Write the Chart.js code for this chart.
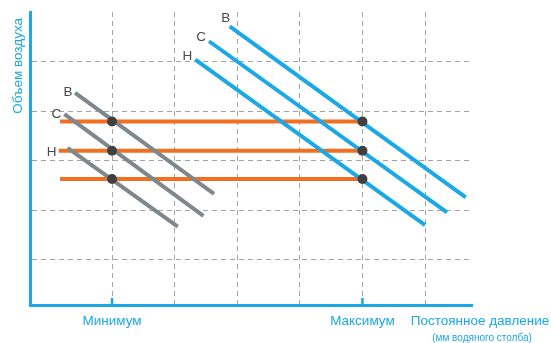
<!DOCTYPE html>
<html>
<head>
<meta charset="utf-8">
<script src="https://cdn.jsdelivr.net/npm/chart.js@4/dist/chart.umd.min.js"></script>
<style>
    html, body { margin: 0; padding: 0; background: #fff; }
    #wrap { width: 551px; height: 343px; }
</style>
</head>
<body>
<div id="wrap"><canvas id="chart"></canvas></div>
<script>
// подписи кривых вентилятора
const curveNames = ['В', 'С', 'Н'];

// x = давление (0 = минимум, 4 = максимум), y = объем воздуха
const minCurveX = [[-0.59, 1.63], [-0.76, 1.46], [-0.71, 1.05]];
const minCurveY = [[4.37, 2.33], [3.94, 1.89], [3.26, 1.67]];
const maxCurveX = [[1.88, 5.65], [1.55, 5.35], [1.33, 5.0]];
const maxCurveY = [[5.71, 2.26], [5.41, 1.96], [5.04, 1.70]];

// постоянный объем (оранжевые линии)
const workLevels = [3.79, 3.20, 2.63];
const workStartX = [-0.83, -0.85, -0.83];
const minPressure = 0;
const maxPressure = 4;

const pressureTicks = [0, 1, 2, 3, 4, 5];
const pressureLabels = ['Минимум', '', '', '', 'Максимум', ''];
const volumeTicks = [1, 2, 3, 4, 5];

const blue = '#1aa8e6';
const orange = '#f26f22';
const gray = '#7d878c';
const dotColor = '#404040';
const gridColor = '#a3a3a3';
const fontFamily = '"Liberation Sans", Arial, sans-serif';

function toPoints(xs, ys) {
    return xs.map((x, i) => ({ x: x, y: ys[i] }));
}

const datasets = [];

// точки пересечения
const dots = [];
workLevels.forEach(level => {
    dots.push({ x: minPressure, y: level });
    dots.push({ x: maxPressure, y: level });
});
datasets.push({
    data: dots,
    showLine: false,
    pointRadius: 5,
    pointBackgroundColor: dotColor,
    pointBorderWidth: 0,
    order: 0
});

curveNames.forEach((name, i) => {
    datasets.push({
        label: name,
        data: toPoints(minCurveX[i], minCurveY[i]),
        showLine: true,
        borderColor: gray,
        borderWidth: 4,
        pointRadius: 0,
        order: 1
    });
    datasets.push({
        label: name,
        data: toPoints(maxCurveX[i], maxCurveY[i]),
        showLine: true,
        borderColor: blue,
        borderWidth: 4,
        pointRadius: 0,
        order: 1
    });
});

workLevels.forEach((level, i) => {
    datasets.push({
        data: [{ x: workStartX[i], y: level }, { x: maxPressure, y: level }],
        showLine: true,
        borderColor: orange,
        borderWidth: 4,
        pointRadius: 0,
        order: 2
    });
});

// смещения букв от начала кривой, px
const minLetterShift = [[-7, -1], [-8, 0], [-16, 4]];
const maxLetterShift = [[-4, -8], [-8, -4], [-8, -3]];

const extras = {
    id: 'extras',
    beforeDatasetsDraw(chart) {
        const { ctx, scales: { x, y } } = chart;
        ctx.save();
        ctx.strokeStyle = blue;
        ctx.lineWidth = 2.5;
        [minPressure, maxPressure].forEach(v => {
            const px = x.getPixelForValue(v);
            ctx.beginPath();
            ctx.moveTo(px, y.bottom);
            ctx.lineTo(px, y.bottom - 7);
            ctx.stroke();
        });
        ctx.restore();
    },
    afterDraw(chart) {
        const { ctx, scales: { x, y } } = chart;
        ctx.save();
        ctx.textAlign = 'center';
        ctx.textBaseline = 'middle';
        ctx.fillStyle = '#4a4a4a';
        ctx.font = '13.5px ' + fontFamily;
        curveNames.forEach((name, i) => {
            let px = x.getPixelForValue(minCurveX[i][0]) + minLetterShift[i][0];
            let py = y.getPixelForValue(minCurveY[i][0]) + minLetterShift[i][1];
            ctx.fillText(name, px, py);
            px = x.getPixelForValue(maxCurveX[i][0]) + maxLetterShift[i][0];
            py = y.getPixelForValue(maxCurveY[i][0]) + maxLetterShift[i][1];
            ctx.fillText(name, px, py);
        });

        // подпись оси x справа
        const cx = x.right + 8;
        ctx.fillStyle = blue;
        ctx.font = '13.5px ' + fontFamily;
        ctx.fillText('Постоянное давление', cx, 321);
        ctx.font = '10px ' + fontFamily;
        ctx.fillText('(мм водяного столба)', cx + 2, 338);

        // подпись оси y
        ctx.translate(18, y.top + 6);
        ctx.rotate(-Math.PI / 2);
        ctx.textAlign = 'right';
        ctx.font = '13.5px ' + fontFamily;
        ctx.fillText('Объем воздуха', 0, 0);
        ctx.restore();
    }
};

new Chart(document.getElementById('chart'), {
    type: 'scatter',
    data: { datasets: datasets },
    plugins: [extras],
    options: {
        responsive: true,
        maintainAspectRatio: false,
        animation: false,
        layout: { padding: { top: 12, right: 79, left: 0, bottom: 0 } },
        plugins: {
            legend: { display: false },
            tooltip: { enabled: false }
        },
        scales: {
            x: {
                type: 'linear',
                min: -1.31,
                max: 5.75,
                afterFit: s => { s.height = 38; },
                afterBuildTicks: s => { s.ticks = pressureTicks.map(v => ({ value: v })); },
                ticks: {
                    callback: (v, i) => pressureLabels[i],
                    color: blue,
                    font: { size: 13.5, family: fontFamily },
                    padding: 8,
                    autoSkip: false,
                    maxRotation: 0
                },
                grid: { color: gridColor, lineWidth: 1, drawTicks: false },
                border: { color: blue, width: 3, dash: [5, 4] }
            },
            y: {
                type: 'linear',
                min: 0.09,
                max: 6,
                afterFit: s => { s.width = 30; },
                afterBuildTicks: s => { s.ticks = volumeTicks.map(v => ({ value: v })); },
                ticks: { display: false },
                grid: { color: gridColor, lineWidth: 1, drawTicks: false },
                border: { color: blue, width: 3, dash: [5, 4] }
            }
        }
    }
});
</script>
</body>
</html>
